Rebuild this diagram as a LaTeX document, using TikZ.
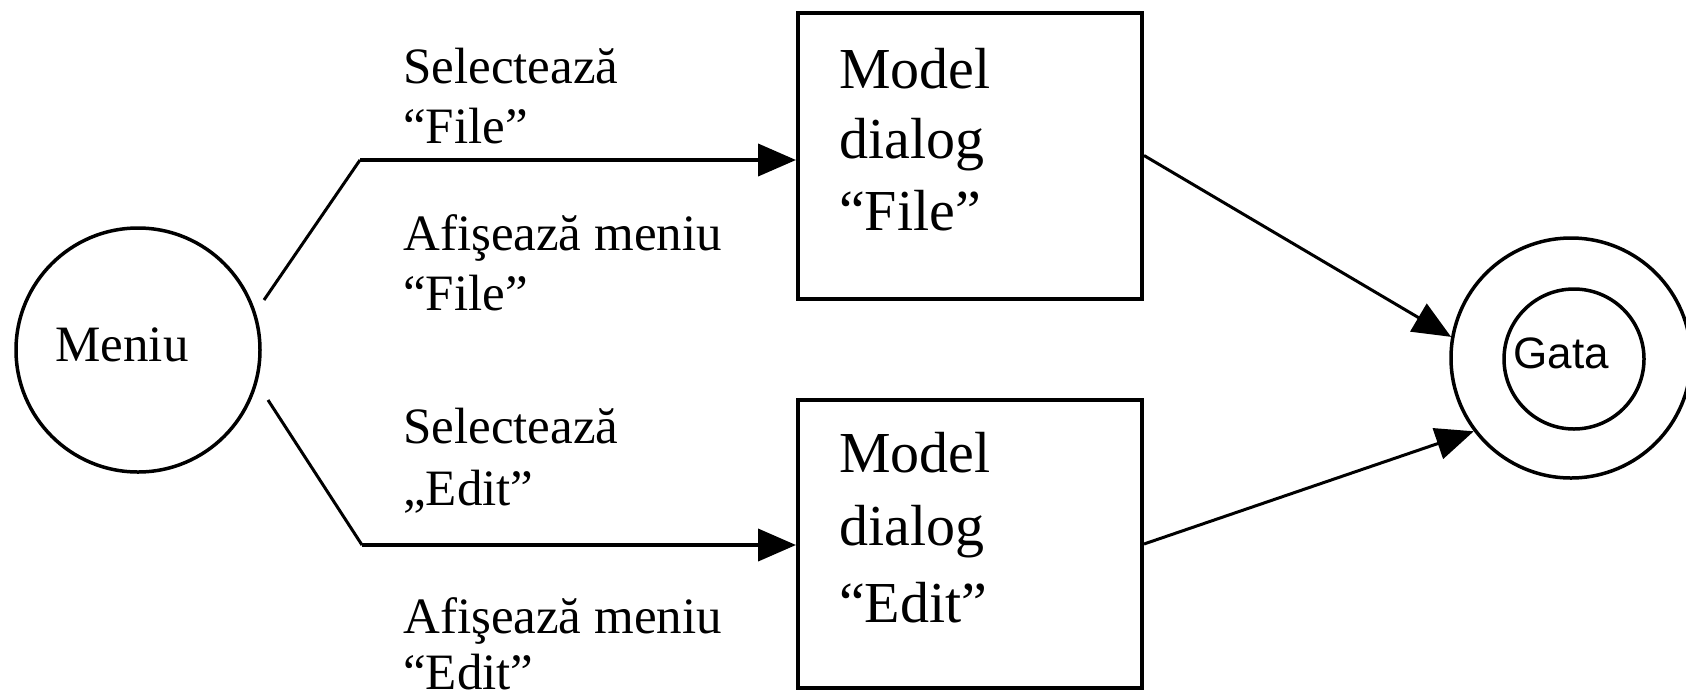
\documentclass[tikz,border=0pt]{standalone}
\usepackage{fontspec}
\setmainfont{Liberation Serif}
\newfontfamily\gatafont{Liberation Sans}
\usetikzlibrary{arrows.meta}
\begin{document}
\begin{tikzpicture}[x=1pt,y=-1pt,
  state/.style={draw,circle,line width=3.5pt,inner sep=0pt},
  dlgbox/.style={draw,rectangle,line width=4pt,minimum width=344pt,minimum height=286pt,inner sep=0pt},
  lbl/.style={anchor=base west,inner sep=0pt,font=\fontsize{51}{60}\selectfont},
  boxtxt/.style={anchor=base west,inner sep=0pt,font=\fontsize{58}{70}\selectfont},
  thinline/.style={line width=3pt},
  thickarrow/.style={line width=4pt,-{Triangle[length=38pt,width=32pt]}},
  diagarrow/.style={line width=3pt,-{Triangle[length=38pt,width=32pt]}}]
\useasboundingbox (0,0) rectangle (1686,697);

% states
\node[state,minimum size=244pt] (menu) at (138,350) {};
\node[anchor=base,inner sep=0pt,font=\fontsize{51}{60}\selectfont] (menutxt) at (122,361) {Meniu};
\node[state,minimum size=240pt] (gataout) at (1571,358) {};
\node[state,minimum size=140pt] (gatain) at (1574,359) {};
\node[anchor=base,inner sep=0pt,font=\gatafont\fontsize{44}{54}\selectfont] (gatatxt) at (1561,368) {Gata};

% dialog boxes
\node[dlgbox] (box1) at (970,155.5) {};
\node[dlgbox,minimum height=288pt] (box2) at (970,544) {};

\node[boxtxt] (b1l1) at (839,88) {Model};
\node[boxtxt] (b1l2) at (839,158) {dialog};
\node[boxtxt] (b1l3) at (839,230) {“File”};
\node[boxtxt] (b2l1) at (839,472) {Model};
\node[boxtxt] (b2l2) at (839,545) {dialog};
\node[boxtxt] (b2l3) at (839,622) {“Edit”};

% labels
\node[lbl] (t1) at (403,83) {Selectează};
\node[lbl] (t2) at (403,143) {“File”};
\node[lbl] (t3) at (403,250) {Afişează meniu};
\node[lbl] (t4) at (403,310) {“File”};
\node[lbl] (t5) at (403,443) {Selectează};
\node[lbl] (t6) at (403,505) {„Edit”};
\node[lbl] (t7) at (403,633) {Afişează meniu};
\node[lbl] (t8) at (403,689) {“Edit”};

% connectors
\coordinate (s1) at (264,300);
\coordinate (k1) at (360,160);
\coordinate (s2) at (268,400);
\coordinate (k2) at (362,545);

\draw[thinline] (s1) -- (k1);
\draw[thickarrow] (k1) -- (k1 -| box1.west);
\draw[thinline] (s2) -- (k2);
\draw[thickarrow] (k2) -- (k2 -| box2.west);

\draw[diagarrow] (box1.east) -- (gataout.170.5);
\draw[diagarrow] (box2.east) -- (gataout.217.6);
\end{tikzpicture}
\end{document}
